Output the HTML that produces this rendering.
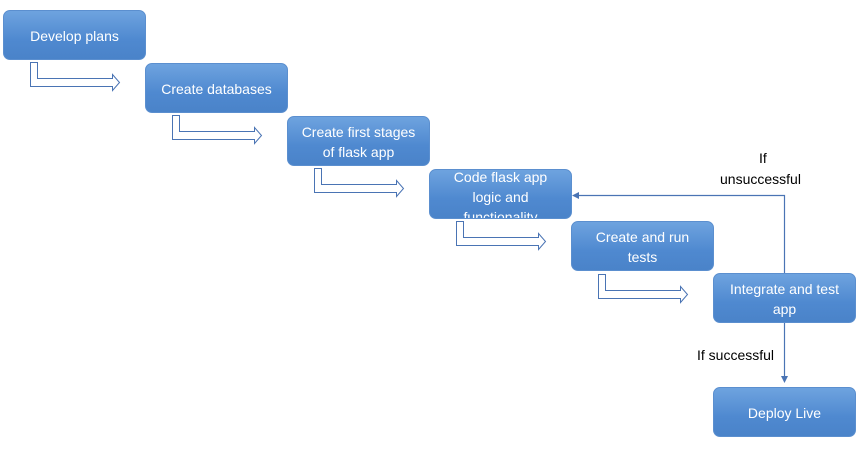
<!DOCTYPE html>
<html><head><style>
body{margin:0;width:859px;height:451px;background:#fff;position:relative;overflow:hidden;font-family:"Liberation Sans",sans-serif}
.b{position:absolute;width:141px;height:48px;border:1px solid #5b8fcf;border-radius:7px;background:linear-gradient(#6ea3df,#4f89d0 60%,#4a83c9);color:#fff;font-size:14px;display:flex;align-items:center;justify-content:center;text-align:center;line-height:20px;box-sizing:content-box;padding-top:2px;height:46px}
.t{position:absolute;font-size:14px;color:#000}
svg{position:absolute;left:0;top:0}
</style></head><body>
<svg width="859" height="451">
<defs><g id="a"><path d="M30.5 62.5 V86.5 H112.5 V90.5 L119.5 82.5 L112.5 74.5 V78.5 H37.5 V62.5 Z" fill="#fff" stroke="#4a74b4" stroke-width="1"/></g></defs>
<use href="#a"/>
<use href="#a" x="142" y="53"/>
<use href="#a" x="284" y="106"/>
<use href="#a" x="426" y="159"/>
<use href="#a" x="568" y="212"/>
<path d="M784.5 273 V195.5 H578" fill="none" stroke="#4a74b4" stroke-width="1.2"/>
<path d="M572 195.5 L579 192 L579 199 Z" fill="#4a74b4"/>
<path d="M784.5 323 V377" fill="none" stroke="#4a74b4" stroke-width="1.2"/>
<path d="M784.5 383 L781 376 L788 376 Z" fill="#4a74b4"/>
</svg>
<div class="b" style="left:3px;top:10px">Develop plans</div>
<div class="b" style="left:145px;top:63px">Create databases</div>
<div class="b" style="left:287px;top:116px">Create first stages<br>of flask app</div>
<div class="b" style="left:429px;top:169px;align-items:flex-start;line-height:20px;overflow:hidden"><span style="margin-top:-5px">Code flask app<br>logic and<br>functionality</span></div>
<div class="b" style="left:571px;top:221px">Create and run<br>tests</div>
<div class="b" style="left:713px;top:273px">Integrate and test<br>app</div>
<div class="b" style="left:713px;top:387px">Deploy Live</div>
<div class="t" style="left:759px;top:150px">If</div>
<div class="t" style="left:720px;top:171px">unsuccessful</div>
<div class="t" style="left:697px;top:347px">If successful</div>
</body></html>
